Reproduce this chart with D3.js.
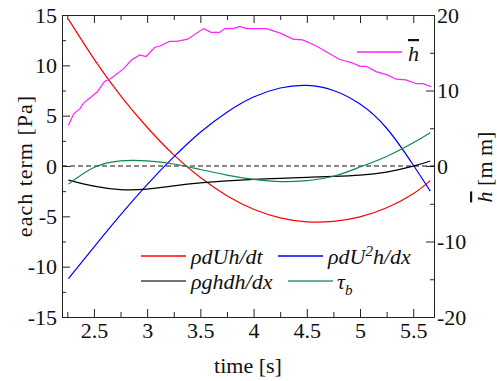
<!DOCTYPE html>
<html>
<head>
<meta charset="utf-8">
<script src="https://cdn.jsdelivr.net/npm/d3@7/dist/d3.min.js"></script>
<style>
  body { margin: 0; background: #fff; }
  svg text { font-family: "Liberation Serif", "Times New Roman", serif; fill: #111; }
  .leg { font-style: italic; font-size: 22px; }
</style>
</head>
<body>
<svg id="chart" width="497" height="381"></svg>
<script>
// sample times for the smooth terms
var times = [2.26, 2.5, 2.75, 3.0, 3.25, 3.5, 3.75, 4.0, 4.25, 4.5, 4.75, 5.0, 5.25, 5.5, 5.66];
var dUhdt  = [14.6, 10.65, 7.0, 3.85, 1.1, -1.15, -2.95, -4.3, -5.15, -5.55, -5.5, -5.05, -4.15, -2.75, -1.45];
var dU2hdx = [-11.2, -8.05, -4.85, -1.85, 0.9, 3.35, 5.35, 6.85, 7.75, 8.0, 7.5, 6.15, 3.75, 0.1, -2.5];
var ghdhdx = [-1.4, -2.0, -2.35, -2.3, -1.98, -1.68, -1.47, -1.32, -1.22, -1.13, -1.03, -0.9, -0.6, -0.02, 0.5];
var tauB   = [-1.8, -0.15, 0.5, 0.5, 0.2, -0.35, -0.9, -1.33, -1.55, -1.45, -1.02, -0.1, 0.95, 2.3, 3.3];

// mean depth (right axis, mm)
var hTimes = [2.26, 2.31, 2.37, 2.40, 2.53, 2.60, 2.66, 2.78, 2.85, 2.93, 2.99, 3.07, 3.12, 3.21, 3.28, 3.38, 3.53, 3.60, 3.68, 3.73, 3.81, 3.87, 3.93, 4.12, 4.25, 4.37, 4.46, 4.59, 4.71, 4.81, 4.92, 5.00, 5.06, 5.15, 5.25, 5.34, 5.43, 5.53, 5.59, 5.67];
var hVals  = [5.4, 6.9, 7.6, 8.3, 9.8, 11.2, 11.6, 12.9, 14.0, 14.7, 14.5, 15.7, 15.9, 16.5, 16.5, 16.8, 18.2, 17.7, 17.7, 18.2, 18.2, 18.5, 18.2, 18.2, 17.6, 16.8, 16.7, 15.9, 14.9, 14.1, 13.7, 13.2, 13.2, 12.5, 12.1, 11.5, 11.4, 10.9, 10.9, 10.5];

var xTicks = [2.5, 3, 3.5, 4, 4.5, 5, 5.5];
var xMinor = [2.25, 2.75, 3.25, 3.75, 4.25, 4.75, 5.25];
var yTicks = [-15, -10, -5, 0, 5, 10, 15];
var yMinor = [-12.5, -7.5, -2.5, 2.5, 7.5, 12.5];
var y2Ticks = [-20, -10, 0, 10, 20];
var y2Minor = [-15, -5, 5, 15];

(function() {
  var svg = d3.select("#chart");
  var pl = 62, pr = 434, pt = 15, pb = 317;

  var x = d3.scaleLinear().domain([2.2, 5.695]).range([pl, pr]);
  var y = d3.scaleLinear().domain([-15, 15]).range([pb, pt]);
  var y2 = d3.scaleLinear().domain([-20, 20]).range([pb, pt]);

  function fmt(d) { return String(d); }

  // axes, ticks pointing inward
  function addAxis(axis, tx, ty, labels) {
    var g = svg.append("g").attr("transform", "translate(" + tx + "," + ty + ")").call(axis);
    g.attr("font-family", null).attr("font-size", null);
    g.selectAll("path, line").attr("stroke", "#222").attr("stroke-width", 1);
    g.selectAll("text").style("font-size", "22px").attr("fill", "#111");
    if (!labels) g.selectAll("text").remove();
    return g;
  }
  addAxis(d3.axisBottom(x).tickValues(xTicks).tickFormat(fmt).tickSize(-8).tickSizeOuter(0).tickPadding(5), 0, pb, true);
  addAxis(d3.axisBottom(x).tickValues(xMinor).tickSize(-5).tickSizeOuter(0), 0, pb, false);
  addAxis(d3.axisTop(x).tickValues(xTicks).tickSize(-8).tickSizeOuter(0), 0, pt, false);
  addAxis(d3.axisTop(x).tickValues(xMinor).tickSize(-5).tickSizeOuter(0), 0, pt, false);
  addAxis(d3.axisLeft(y).tickValues(yTicks).tickFormat(fmt).tickSize(-8).tickSizeOuter(0).tickPadding(5), pl, 0, true);
  addAxis(d3.axisLeft(y).tickValues(yMinor).tickSize(-4).tickSizeOuter(0), pl, 0, false);
  addAxis(d3.axisRight(y2).tickValues(y2Ticks).tickFormat(fmt).tickSize(-8).tickSizeOuter(0).tickPadding(3), pr, 0, true);
  addAxis(d3.axisRight(y2).tickValues(y2Minor).tickSize(-4).tickSizeOuter(0), pr, 0, false);

  // zero line
  svg.append("line")
    .attr("x1", pl).attr("x2", pr)
    .attr("y1", y(0)).attr("y2", y(0))
    .attr("stroke", "#111").attr("stroke-width", 1).attr("stroke-dasharray", "5,3");

  var smooth = d3.line().x(function(d) { return x(d[0]); }).y(function(d) { return y(d[1]); }).curve(d3.curveNatural);
  var series = [
    { vals: dUhdt, color: "#ff0000" },
    { vals: dU2hdx, color: "#0000ff" },
    { vals: ghdhdx, color: "#000000" },
    { vals: tauB, color: "#0b8a4a" }
  ];
  series.forEach(function(s) {
    svg.append("path")
      .datum(d3.zip(times, s.vals))
      .attr("d", smooth)
      .attr("fill", "none").attr("stroke", s.color).attr("stroke-width", 1.2);
  });

  var hLine = d3.line().x(function(d) { return x(d[0]); }).y(function(d) { return y2(d[1]); });
  svg.append("path")
    .datum(d3.zip(hTimes, hVals))
    .attr("d", hLine)
    .attr("fill", "none").attr("stroke", "#ff22ff").attr("stroke-width", 1.2);

  // legends
  function legLine(x1, x2, yy, color) {
    svg.append("line").attr("x1", x1).attr("x2", x2).attr("y1", yy).attr("y2", yy)
      .attr("stroke", color).attr("stroke-width", 1.5);
  }
  legLine(357, 402, 52, "#ff22ff");
  var hl = svg.append("text").attr("class", "leg").attr("x", 408).attr("y", 61);
  hl.append("tspan").style("text-decoration", "overline").text("h");

  legLine(141, 186, 256, "#ff0000");
  svg.append("text").attr("class", "leg").attr("x", 191).attr("y", 264).text("ρdUh/dt");
  legLine(278, 323, 256, "#0000ff");
  var t2 = svg.append("text").attr("class", "leg").attr("x", 328).attr("y", 264);
  t2.append("tspan").text("ρdU");
  t2.append("tspan").attr("dy", -8).style("font-size", "15px").text("2");
  t2.append("tspan").attr("dy", 8).text("h/dx");

  legLine(141, 186, 281, "#444444");
  svg.append("text").attr("class", "leg").attr("x", 191).attr("y", 289).text("ρghdh/dx");
  legLine(288, 333, 281, "#3a9a6a");
  var t4 = svg.append("text").attr("class", "leg").attr("x", 337).attr("y", 289);
  t4.append("tspan").text("τ");
  t4.append("tspan").attr("dy", 6).style("font-size", "15px").text("b");

  // axis titles
  svg.append("text")
    .attr("transform", "translate(32,166) rotate(-90)")
    .attr("text-anchor", "middle")
    .style("font-size", "22px").style("letter-spacing", "1px")
    .text("each term [Pa]");

  svg.append("text")
    .attr("x", 248).attr("y", 373)
    .attr("text-anchor", "middle")
    .style("font-size", "22px")
    .text("time [s]");

  var rt = svg.append("text")
    .attr("transform", "translate(492,167) rotate(-90)")
    .attr("text-anchor", "middle")
    .style("font-size", "22px");
  rt.append("tspan").style("font-style", "italic").style("text-decoration", "overline").text("h");
  rt.append("tspan").text(" [m m]");
})();
</script>
</body>
</html>
